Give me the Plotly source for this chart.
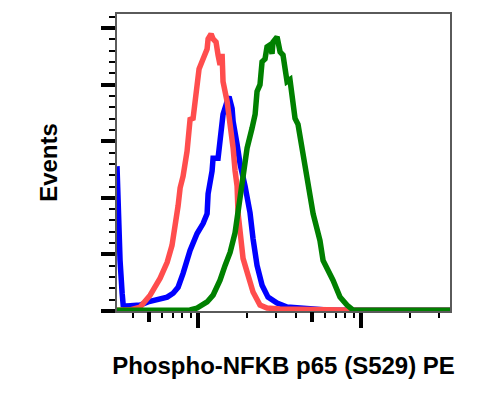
import math
import plotly.graph_objects as go

# Fluorescence intensity (PE, log scale) and event counts
red_x = [318, 383, 441, 508, 585, 646, 692, 723, 754, 776, 809, 856, 893, 932, 986, 1014,
         1073, 1136, 1152, 1202, 1236, 1289, 1326, 1364, 1404, 1423, 1507, 1572, 1641, 1687,
         1735, 1759, 1811, 1888, 2027, 2174, 2399, 2649, 3186, 4227, 6457, 9862, 35160]
red_y = [0.3, 0.4, 1.4, 5.6, 11.6, 17.2, 23.2, 29.1, 37.2, 43.5, 47.7, 56.5, 67.7, 68.1, 77.6, 85.6,
         89.1, 92.6, 96.2, 97.9, 96.2, 95.1, 90.5, 87.0, 90.9, 81.1, 74.1, 67.0, 57.6, 49.5,
         44.2, 34.7, 27.7, 18.6, 12.6, 6.7, 2.1, 1.05, 0.7, 0.5, 0.4, 0.3, 0.3]

blue_x = [318, 323, 332, 342, 347, 366, 441, 493, 560, 646, 703, 754, 809, 893, 986, 1073,
          1136, 1152, 1219, 1236, 1326, 1364, 1404, 1423, 1507, 1549, 1617, 1641, 1735, 1811,
          1942, 2084, 2174, 2301, 2470, 2687, 3053, 3516, 4227, 4864, 6457, 35160]
blue_y = [51.2, 35.4, 17.9, 6.3, 2.1, 1.75, 2.1, 3.2, 3.9, 4.9, 6.3, 8.4, 13.3, 21.4, 27.4, 30.9,
          34.4, 41.4, 49.5, 54.0, 54.0, 60.0, 64.6, 69.5, 74.1, 75.8, 71.6, 67.0, 59.0, 51.9,
          44.2, 34.7, 25.6, 16.1, 9.1, 4.9, 2.8, 1.4, 1.05, 0.7, 0.3, 0.3]

green_x = [318, 893, 986, 1136, 1236, 1364, 1465, 1572, 1687, 1759, 1811, 1888, 1999, 2143,
           2239, 2301, 2399, 2470, 2576, 2649, 2767, 2844, 2884, 3053, 3186, 3321, 3420, 3516,
           3664, 3776, 3936, 4105, 4345, 4529, 4864, 5082, 5598, 5848, 6730, 7430, 8199, 8935,
           9862, 35160]
green_y = [0.3, 0.35, 1.05, 3.2, 5.6, 10.9, 16.1, 20.7, 27.7, 35.4, 40.7, 44.9, 57.6, 64.6,
           69.5, 77.6, 80.0, 88.1, 89.1, 93.4, 94.1, 90.9, 95.1, 96.9, 91.6, 90.5, 83.5, 81.1,
           81.8, 76.5, 68.1, 66.0, 57.6, 50.5, 39.0, 34.4, 24.9, 17.9, 10.9, 4.9, 2.1, 0.35,
           0.3, 0.3]

x_range = [318, 35160]
y_range = [0, 105]
x_major_ticks = [1000, 10000]
x_mid_ticks = [500, 5000]
x_minor_ticks = [400, 600, 700, 800, 900, 2000, 3000, 4000, 6000, 7000, 8000, 9000, 20000, 30000]

xr = [math.log10(x_range[0]), math.log10(x_range[1])]

fig = go.Figure()
fig.add_trace(go.Scatter(x=blue_x, y=blue_y, mode="lines", line=dict(color="#0000ff", width=5.5),
                         showlegend=False, hoverinfo="skip"))
fig.add_trace(go.Scatter(x=red_x, y=red_y, mode="lines", line=dict(color="#ff4d4d", width=5.5),
                         showlegend=False, hoverinfo="skip"))
fig.add_trace(go.Scatter(x=green_x, y=green_y, mode="lines", line=dict(color="#008000", width=5.5),
                         showlegend=False, hoverinfo="skip"))
# empty trace to register the overlaying axis that carries the mid-decade ticks
fig.add_trace(go.Scatter(x=[], y=[], xaxis="x2", showlegend=False, hoverinfo="skip"))

title_font = dict(family="Liberation Sans, Arial, sans-serif", size=24, color="black")

fig.update_layout(
    width=490, height=396,
    margin=dict(l=109, r=48, t=4, b=93),
    paper_bgcolor="white", plot_bgcolor="white",
    showlegend=False,
    xaxis=dict(
        type="log", range=xr, showgrid=False, zeroline=False,
        showline=True, linecolor="#5a5a5a", linewidth=1.5, mirror=True,
        tickmode="array", tickvals=x_major_ticks, showticklabels=False,
        ticks="outside", ticklen=15, tickwidth=4, tickcolor="black",
        minor=dict(tickmode="array", tickvals=x_minor_ticks, ticks="outside",
                   ticklen=5, tickwidth=2, tickcolor="black", showgrid=False),
        layer="below traces",
        title=dict(text="<b>Phospho-NFKB p65 (S529) PE</b>", font=title_font, standoff=30),
    ),
    xaxis2=dict(
        type="log", range=xr, overlaying="x", anchor="y", side="bottom",
        showgrid=False, zeroline=False, showline=False,
        tickmode="array", tickvals=x_mid_ticks, showticklabels=False,
        ticks="outside", ticklen=10, tickwidth=3.5, tickcolor="black",
    ),
    yaxis=dict(
        range=y_range, showgrid=False, zeroline=False,
        showline=True, linecolor="#5a5a5a", linewidth=1.5, mirror=True,
        tick0=0, dtick=20, showticklabels=False,
        ticks="outside", ticklen=14, tickwidth=3.5, tickcolor="black",
        minor=dict(dtick=4, tick0=0, ticks="outside", ticklen=6, tickwidth=2,
                   tickcolor="black", showgrid=False),
        layer="below traces",
        title=dict(text="<b>Events</b>", font=title_font, standoff=37),
    ),
)

fig.write_html("out.html")
